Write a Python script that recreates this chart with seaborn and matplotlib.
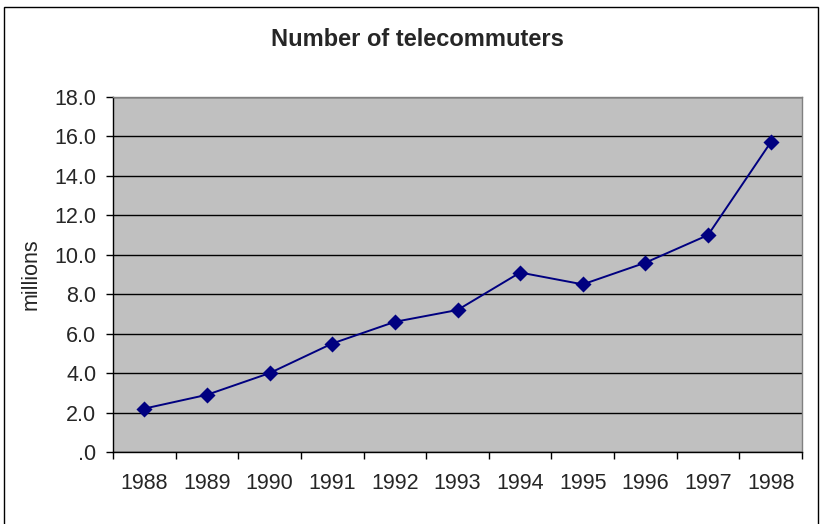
import matplotlib
matplotlib.use("Agg")
import matplotlib.pyplot as plt
from matplotlib.patches import Rectangle
from matplotlib.ticker import FuncFormatter, FixedLocator
import seaborn as sns
import pandas as pd
import numpy as np

years = ["1988", "1989", "1990", "1991", "1992", "1993", "1994", "1995", "1996", "1997", "1998"]
telecommuters = [2.2, 2.9, 4.0, 5.5, 6.6, 7.2, 9.1, 8.5, 9.6, 11.0, 15.7]
title = "Number of telecommuters"
ylabel = "millions"

sns.set_style("white")
plt.rcParams['font.family'] = ['Liberation Sans', 'DejaVu Sans']

df = pd.DataFrame({"year": years, "value": telecommuters})

fig = plt.figure(figsize=(8.24, 5.24), dpi=100)
ax = fig.add_axes([113/824, 72/524, 689/824, 355/524])
ax.set_facecolor("#C0C0C0")

sns.pointplot(data=df, x="year", y="value", ax=ax, color="#000080",
              markers="D", markersize=7, linewidth=1.4, errorbar=None)

ax.set_ylim(0, 18)
ax.set_xlim(-0.5, len(years) - 0.5)
ax.set_yticks(np.arange(0, 19, 2))
ax.yaxis.set_major_formatter(FuncFormatter(lambda v, p: ".0" if v == 0 else f"{v:.1f}"))
ax.grid(axis="y", color="black", linewidth=1)
ax.grid(axis="x", visible=False)
ax.set_axisbelow(True)

# category ticks between categories
ax.xaxis.set_major_locator(FixedLocator(np.arange(len(years))))
ax.xaxis.set_minor_locator(FixedLocator(np.arange(-0.5, len(years), 1.0)))
ax.set_xticklabels(years)
ax.tick_params(axis="x", which="major", length=0, labelsize=15.5, pad=15)
ax.tick_params(axis="x", which="minor", length=5, width=1, color="black", direction="out")
ax.tick_params(axis="y", length=5, width=1, color="black", direction="out", labelsize=15.5, pad=7)
ax.xaxis.set_tick_params(which="minor", bottom=True)
ax.yaxis.set_tick_params(left=True)

for side in ["left", "bottom"]:
    ax.spines[side].set_color("black")
    ax.spines[side].set_linewidth(1)
for side in ["top", "right"]:
    ax.spines[side].set_color("#808080")
    ax.spines[side].set_linewidth(1)

ax.set_xlabel("")
ax.set_ylabel(ylabel, fontsize=15.5)
ax.yaxis.set_label_coords(-0.104, 0.5)
fig.text(0.507, 1 - 39/524, title, ha="center", va="center", fontsize=17, fontweight="bold")

fig.patches.append(Rectangle((4/824, -0.05), 814/824, 1.05 - 7/524, transform=fig.transFigure,
                             fill=False, edgecolor="black", linewidth=1))

fig.savefig("out.png", dpi=100)
